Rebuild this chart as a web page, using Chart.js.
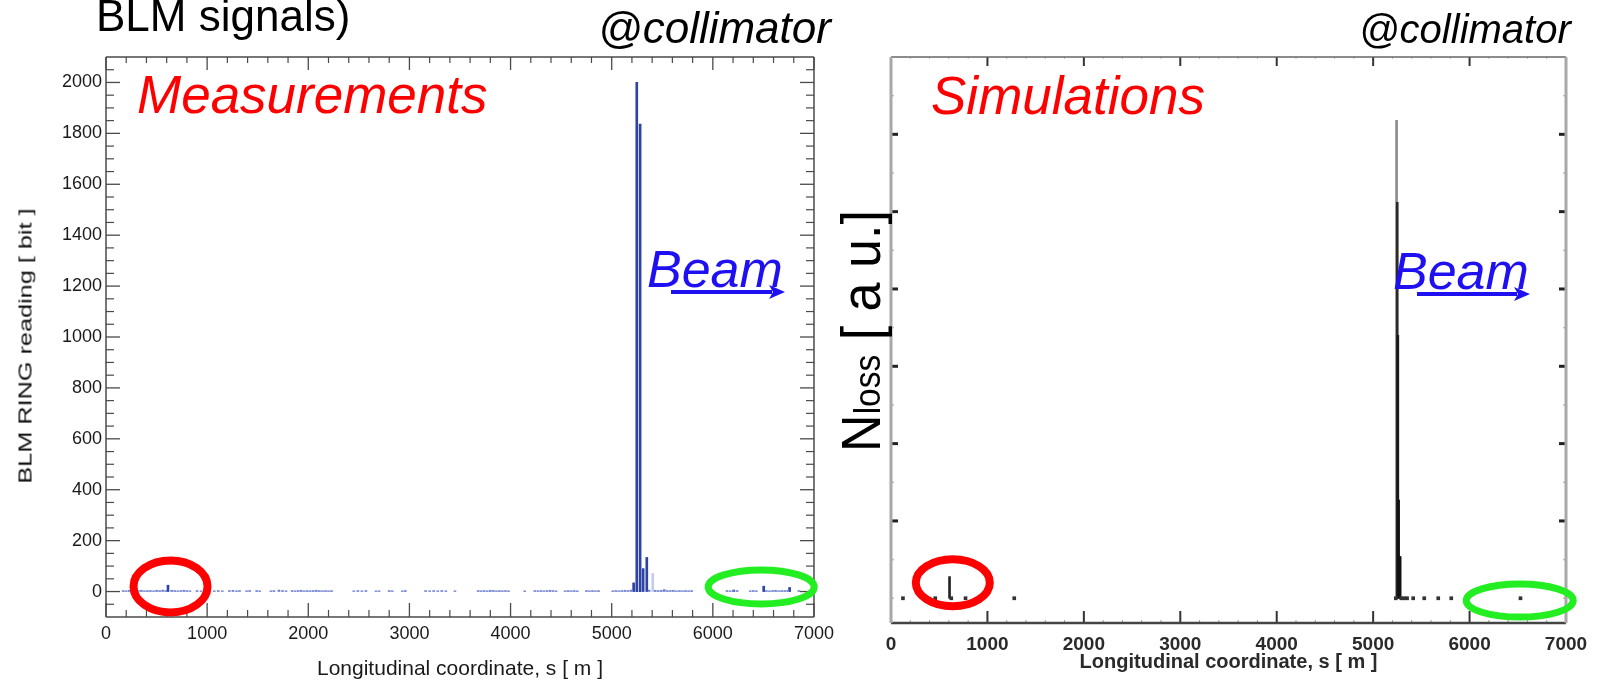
<!DOCTYPE html>
<html><head><meta charset="utf-8">
<script src="https://cdn.jsdelivr.net/npm/chart.js@4/dist/chart.umd.min.js"></script>
<style>
html,body{margin:0;padding:0;background:#fff;}
body{width:1598px;height:681px;overflow:hidden;position:relative;font-family:'Liberation Sans',Arial,Helvetica,sans-serif;}
canvas{position:absolute;top:0;}
#c1{left:0;width:840px;height:681px;}
#c2{left:840px;width:758px;height:681px;}
.t{position:absolute;white-space:nowrap;line-height:1;}
.it{font-style:italic;}
</style></head><body>
<canvas id="c1" width="840" height="681"></canvas>
<canvas id="c2" width="758" height="681"></canvas>

<div class="t" style="left:96px;top:-6px;font-size:44px;color:#000;">BLM signals)</div>
<div class="t it" style="left:598px;top:6px;font-size:44px;color:#000;">@collimator</div>
<div class="t it" style="left:1359px;top:9px;font-size:40px;color:#000;">@collimator</div>
<div class="t it" style="left:137px;top:68px;font-size:53px;color:#ff0000;">Measurements</div>
<div class="t it" style="left:931px;top:69px;font-size:53px;color:#ff0000;">Simulations</div>
<div class="t it" style="left:647px;top:243px;font-size:52px;color:#1e10f0;">Beam</div>
<div class="t it" style="left:1393px;top:245px;font-size:52px;color:#1e10f0;">Beam</div>
<div class="t" style="left:25px;top:346px;font-size:19px;color:#111;transform:translate(-50%,-50%) rotate(-90deg) scaleX(1.33);">BLM RING reading [ bit ]</div>
<div class="t" style="left:861px;top:331px;font-size:56px;color:#000;transform:translate(-50%,-50%) rotate(-90deg) scaleX(0.93);">N<span style="font-size:36px;">loss</span> [ a u.]</div>

<svg width="1598" height="681" style="position:absolute;left:0;top:0;pointer-events:none;">
  <line x1="671" y1="292" x2="772" y2="292" stroke="#1e10f0" stroke-width="4"/>
  <path d="M785,292 L769,285 L773,292 L769,299 Z" fill="#1e10f0"/>
  <line x1="1417" y1="294" x2="1517" y2="294" stroke="#1e10f0" stroke-width="4"/>
  <path d="M1530,294 L1514,287 L1518,294 L1514,301 Z" fill="#1e10f0"/>
</svg>

<script>
const FONT = "'Liberation Sans', Arial, Helvetica, sans-serif";
Chart.defaults.font.family = FONT;

// ---------------- data ----------------
const xTickValues = [0, 1000, 2000, 3000, 4000, 5000, 6000, 7000];
const measTickValues = [0, 200, 400, 600, 800, 1000, 1200, 1400, 1600, 1800, 2000];
const simLevelTicks = [1, 2, 3, 4, 5, 6];

// Measurements (BLM RING reading, bit) vs s [m]
const measPeakS = [613, 5217, 5248, 5281, 5311, 5347, 6207, 6503, 6759];
const measPeakV = [25, 34, 2000, 1836, 90, 134, 6, 21, 16];
const measFaintS = [5406];
const measFaintV = [71];
const measBaseS = [
  170,200,230,260,290,320,350,380,410,440,470,500,530,560,590,
  650,680,710,740,770,800,830,
  900,940,985,
  1070,1110,1150,
  1220,1255,1290,1320,
  1390,1420,
  1490,1520,
  1630,1660,
  1710,1745,1780,
  1840,1870,1900,1930,1960,1990,2020,2050,2080,2110,2140,2170,2200,2230,
  2450,2490,2530,2570,
  2670,2700,
  2800,2830,
  2930,2960,
  3160,3200,3240,3280,3320,3360,
  3450,
  3680,3710,3740,3770,3800,3830,3860,3890,3920,3950,3980,
  4140,
  4240,4270,4300,4330,4360,4390,4420,4450,
  4540,4570,4600,4630,4660,
  4750,4780,4810,4840,4870,
  5010,5040,5070,5100,5130,5160,5190,
  5370,5430,5460,5490,5520,5550,5580,5610,5640,5670,5700,5730,5760,5790,
  6140,6170,6200,6240,
  6370,6400,6430,
  6530,6560,6590,6620,6650,6680,6710,6740,
  6850
];
const measBaseV = [
  4,3,5,4,3,4,5,3,4,4,3,5,4,6,4,
  5,4,3,4,5,4,3,
  4,3,4,
  3,4,3,
  4,5,3,4,
  3,4,
  4,3,
  3,4,
  6,4,3,
  4,3,4,5,3,4,3,4,5,4,3,4,3,4,
  3,4,3,4,
  3,3,
  4,3,
  3,4,
  4,3,4,3,4,3,
  3,
  4,3,4,3,5,4,3,4,3,4,3,
  3,
  4,3,4,3,4,5,4,3,
  3,4,3,4,3,
  4,3,4,3,4,
  3,4,3,4,5,4,6,
  6,5,4,5,8,4,4,5,3,4,3,4,3,4,
  4,3,5,4,
  3,4,3,
  4,3,4,5,3,4,4,5,
  4
];

// Simulations (N_loss, a.u.) vs s [m]
const simPeakS = [607, 5243, 5250, 5256, 5264, 5280];
const simPeakV = [0.28, 6.18, 5.12, 3.4, 1.27, 0.54];
const simDotS = [124, 459, 625, 773, 1278, 5235, 5292, 5322, 5352, 5415, 5530, 5675, 5810, 6528];
const simDotV = [0.02, 0.02, 0.02, 0.02, 0.02, 0.02, 0.02, 0.02, 0.02, 0.02, 0.02, 0.02, 0.02, 0.02];

// annotation ellipses (centre in data units)
const measEllipses = [
  {x: 638, y: 20, rx: 37, ry: 26, color: '#ff0000', width: 8},
  {x: 6478, y: 18, rx: 53, ry: 17, color: '#22ee22', width: 7}
];
const simEllipses = [
  {x: 641, y: 0.2, rx: 37, ry: 23.5, color: '#ff0000', width: 8},
  {x: 6520, y: -0.03, rx: 53.5, ry: 16.5, color: '#22ee22', width: 7}
];

const pts = (xs, ys) => xs.map((s, i) => ({x: s, y: ys[i]}));
const plain = v => String(v);

// ---------------- plugins ----------------
const frameTicks = {
  id: 'frameTicks',
  afterDraw(chart, args, o) {
    const {ctx, chartArea: a, scales} = chart;
    ctx.save();
    const seg = (x1, y1, x2, y2, c, w) => {
      ctx.strokeStyle = c; ctx.lineWidth = w;
      ctx.beginPath(); ctx.moveTo(x1, y1); ctx.lineTo(x2, y2); ctx.stroke();
    };
    for (const t of o.ticks) {
      const sc = scales[t.axis];
      for (const v of t.values) {
        const p = sc.getPixelForValue(v);
        if (t.side === 'bottom') seg(p, a.bottom, p, a.bottom - t.len, t.color, t.width);
        if (t.side === 'top') seg(p, a.top, p, a.top + t.len, t.color, t.width);
        if (t.side === 'left') seg(a.left, p, a.left + t.len, p, t.color, t.width);
        if (t.side === 'right') seg(a.right, p, a.right - t.len, p, t.color, t.width);
      }
    }
    const s = o.sides;
    seg(a.left, a.top, a.right, a.top, s.top.color, s.top.width);
    seg(a.left, a.bottom, a.right, a.bottom, s.bottom.color, s.bottom.width);
    seg(a.left, a.top, a.left, a.bottom, s.left.color, s.left.width);
    seg(a.right, a.top, a.right, a.bottom, s.right.color, s.right.width);
    ctx.restore();
  }
};
const ellipses = {
  id: 'ellipses',
  afterDraw(chart, args, o) {
    const {ctx, scales: {x, y}} = chart;
    ctx.save();
    for (const e of o.items) {
      ctx.strokeStyle = e.color; ctx.lineWidth = e.width;
      ctx.beginPath();
      ctx.ellipse(x.getPixelForValue(e.x), y.getPixelForValue(e.y), e.rx, e.ry, 0, 0, Math.PI * 2);
      ctx.stroke();
    }
    ctx.restore();
  }
};

function between(lo, hi, step, skip) {
  const out = [];
  for (let v = lo; v <= hi + 1e-9; v += step) {
    if (!skip.some(m => Math.abs(m - v) < 1e-6)) out.push(Math.round(v * 1000) / 1000);
  }
  return out;
}
const xMinor = between(0, 7000, 200, xTickValues);
const measMinor = between(-50, 2050, 50, measTickValues);
const simMinor = between(0, 6.5, 0.5, simLevelTicks);

// ---------------- chart 1: measurements ----------------
const c1Tick = '#4a4a4a';
new Chart(document.getElementById('c1'), {
  type: 'bar',
  data: {
    datasets: [
      {data: pts(measBaseS, measBaseV), backgroundColor: '#7585d2', barThickness: 2, grouped: false},
      {data: pts(measFaintS, measFaintV), backgroundColor: '#c3cbf0', barThickness: 2, grouped: false},
      {data: pts(measPeakS, measPeakV), backgroundColor: '#2d43a5', barThickness: 2, grouped: false}
    ]
  },
  options: {
    responsive: false, animation: false,
    layout: {padding: {top: 57, right: 23, left: 0, bottom: 0}},
    plugins: {
      legend: {display: false}, tooltip: {enabled: false},
      frameTicks: {
        sides: {top: {color: c1Tick, width: 1.5}, bottom: {color: c1Tick, width: 1.5},
                left: {color: c1Tick, width: 1.5}, right: {color: c1Tick, width: 1.5}},
        ticks: [
          {axis: 'x', side: 'bottom', values: xTickValues, len: 14, color: c1Tick, width: 1.3},
          {axis: 'x', side: 'bottom', values: xMinor, len: 7, color: c1Tick, width: 1.2},
          {axis: 'x', side: 'top', values: xTickValues, len: 13, color: c1Tick, width: 1.3},
          {axis: 'x', side: 'top', values: xMinor, len: 6, color: c1Tick, width: 1.2},
          {axis: 'y', side: 'left', values: measTickValues, len: 14, color: c1Tick, width: 1.3},
          {axis: 'y', side: 'left', values: measMinor, len: 8, color: c1Tick, width: 1.2},
          {axis: 'y', side: 'right', values: measTickValues, len: 14, color: c1Tick, width: 1.3},
          {axis: 'y', side: 'right', values: measMinor, len: 8, color: c1Tick, width: 1.2}
        ]
      },
      ellipses: {items: measEllipses}
    },
    scales: {
      x: {
        type: 'linear', min: 0, max: 7000, offset: false,
        grid: {display: false, drawTicks: false}, border: {display: false},
        afterBuildTicks: s => { s.ticks = xTickValues.map(v => ({value: v})); },
        afterFit: s => { s.height = 64; },
        ticks: {color: '#1a1a1a', font: {size: 18}, padding: 6, maxRotation: 0, autoSkip: false, callback: plain},
        title: {display: true, text: 'Longitudinal coordinate, s [ m ]', color: '#1a1a1a',
                font: {size: 21, lineHeight: 1.0}, padding: {top: 0, bottom: 1}}
      },
      y: {
        type: 'linear', min: -100, max: 2100,
        grid: {display: false, drawTicks: false}, border: {display: false},
        afterBuildTicks: s => { s.ticks = measTickValues.map(v => ({value: v})); },
        afterFit: s => { s.width = 106; },
        ticks: {color: '#1a1a1a', font: {size: 18}, padding: 4, autoSkip: false, callback: plain}
      }
    }
  },
  plugins: [frameTicks, ellipses]
});

// ---------------- chart 2: simulations ----------------
new Chart(document.getElementById('c2'), {
  type: 'bar',
  data: {
    datasets: [
      {data: pts(simDotS, simDotV), base: -0.02, backgroundColor: '#333333', barThickness: 3, grouped: false},
      {data: pts(simPeakS, simPeakV), backgroundColor: ['#222222', '#8c8c8c', '#2a2a2a', '#1a1a1a', '#111111', '#111111'],
       barThickness: 2, grouped: false}
    ]
  },
  options: {
    responsive: false, animation: false,
    layout: {padding: {top: 57, right: 32, left: 0, bottom: 0}},
    plugins: {
      legend: {display: false}, tooltip: {enabled: false},
      frameTicks: {
        sides: {top: {color: '#666666', width: 1.5}, bottom: {color: '#444444', width: 2.5},
                left: {color: '#a8a8a8', width: 3}, right: {color: '#a8a8a8', width: 3}},
        ticks: [
          {axis: 'x', side: 'bottom', values: xMinor, len: 3, color: '#999999', width: 1},
          {axis: 'x', side: 'bottom', values: xTickValues, len: 12, color: '#333333', width: 2},
          {axis: 'x', side: 'top', values: xMinor, len: 2, color: '#bbbbbb', width: 1},
          {axis: 'x', side: 'top', values: xTickValues, len: 9, color: '#333333', width: 2},
          {axis: 'y', side: 'left', values: simMinor, len: 3, color: '#bbbbbb', width: 1.5},
          {axis: 'y', side: 'left', values: simLevelTicks, len: 7, color: '#222222', width: 3},
          {axis: 'y', side: 'right', values: simMinor, len: 3, color: '#bbbbbb', width: 1.5},
          {axis: 'y', side: 'right', values: simLevelTicks, len: 7, color: '#222222', width: 3}
        ]
      },
      ellipses: {items: simEllipses}
    },
    scales: {
      x: {
        type: 'linear', min: 0, max: 7000, offset: false,
        grid: {display: false, drawTicks: false}, border: {display: false},
        afterBuildTicks: s => { s.ticks = xTickValues.map(v => ({value: v})); },
        afterFit: s => { s.height = 58; },
        ticks: {color: '#2a2a2a', font: {size: 19, weight: 'bold'}, padding: 10, maxRotation: 0, autoSkip: false, callback: plain},
        title: {display: true, text: 'Longitudinal coordinate, s [ m ]', color: '#2a2a2a',
                font: {size: 20, weight: 'bold', lineHeight: 1.0}, padding: {top: 0, bottom: 9}}
      },
      y: {
        type: 'linear', min: -0.32, max: 7,
        grid: {display: false, drawTicks: false}, border: {display: false},
        afterBuildTicks: s => { s.ticks = simLevelTicks.map(v => ({value: v})); },
        afterFit: s => { s.width = 51; },
        ticks: {display: false}
      }
    }
  },
  plugins: [frameTicks, ellipses]
});
</script>
</body></html>
